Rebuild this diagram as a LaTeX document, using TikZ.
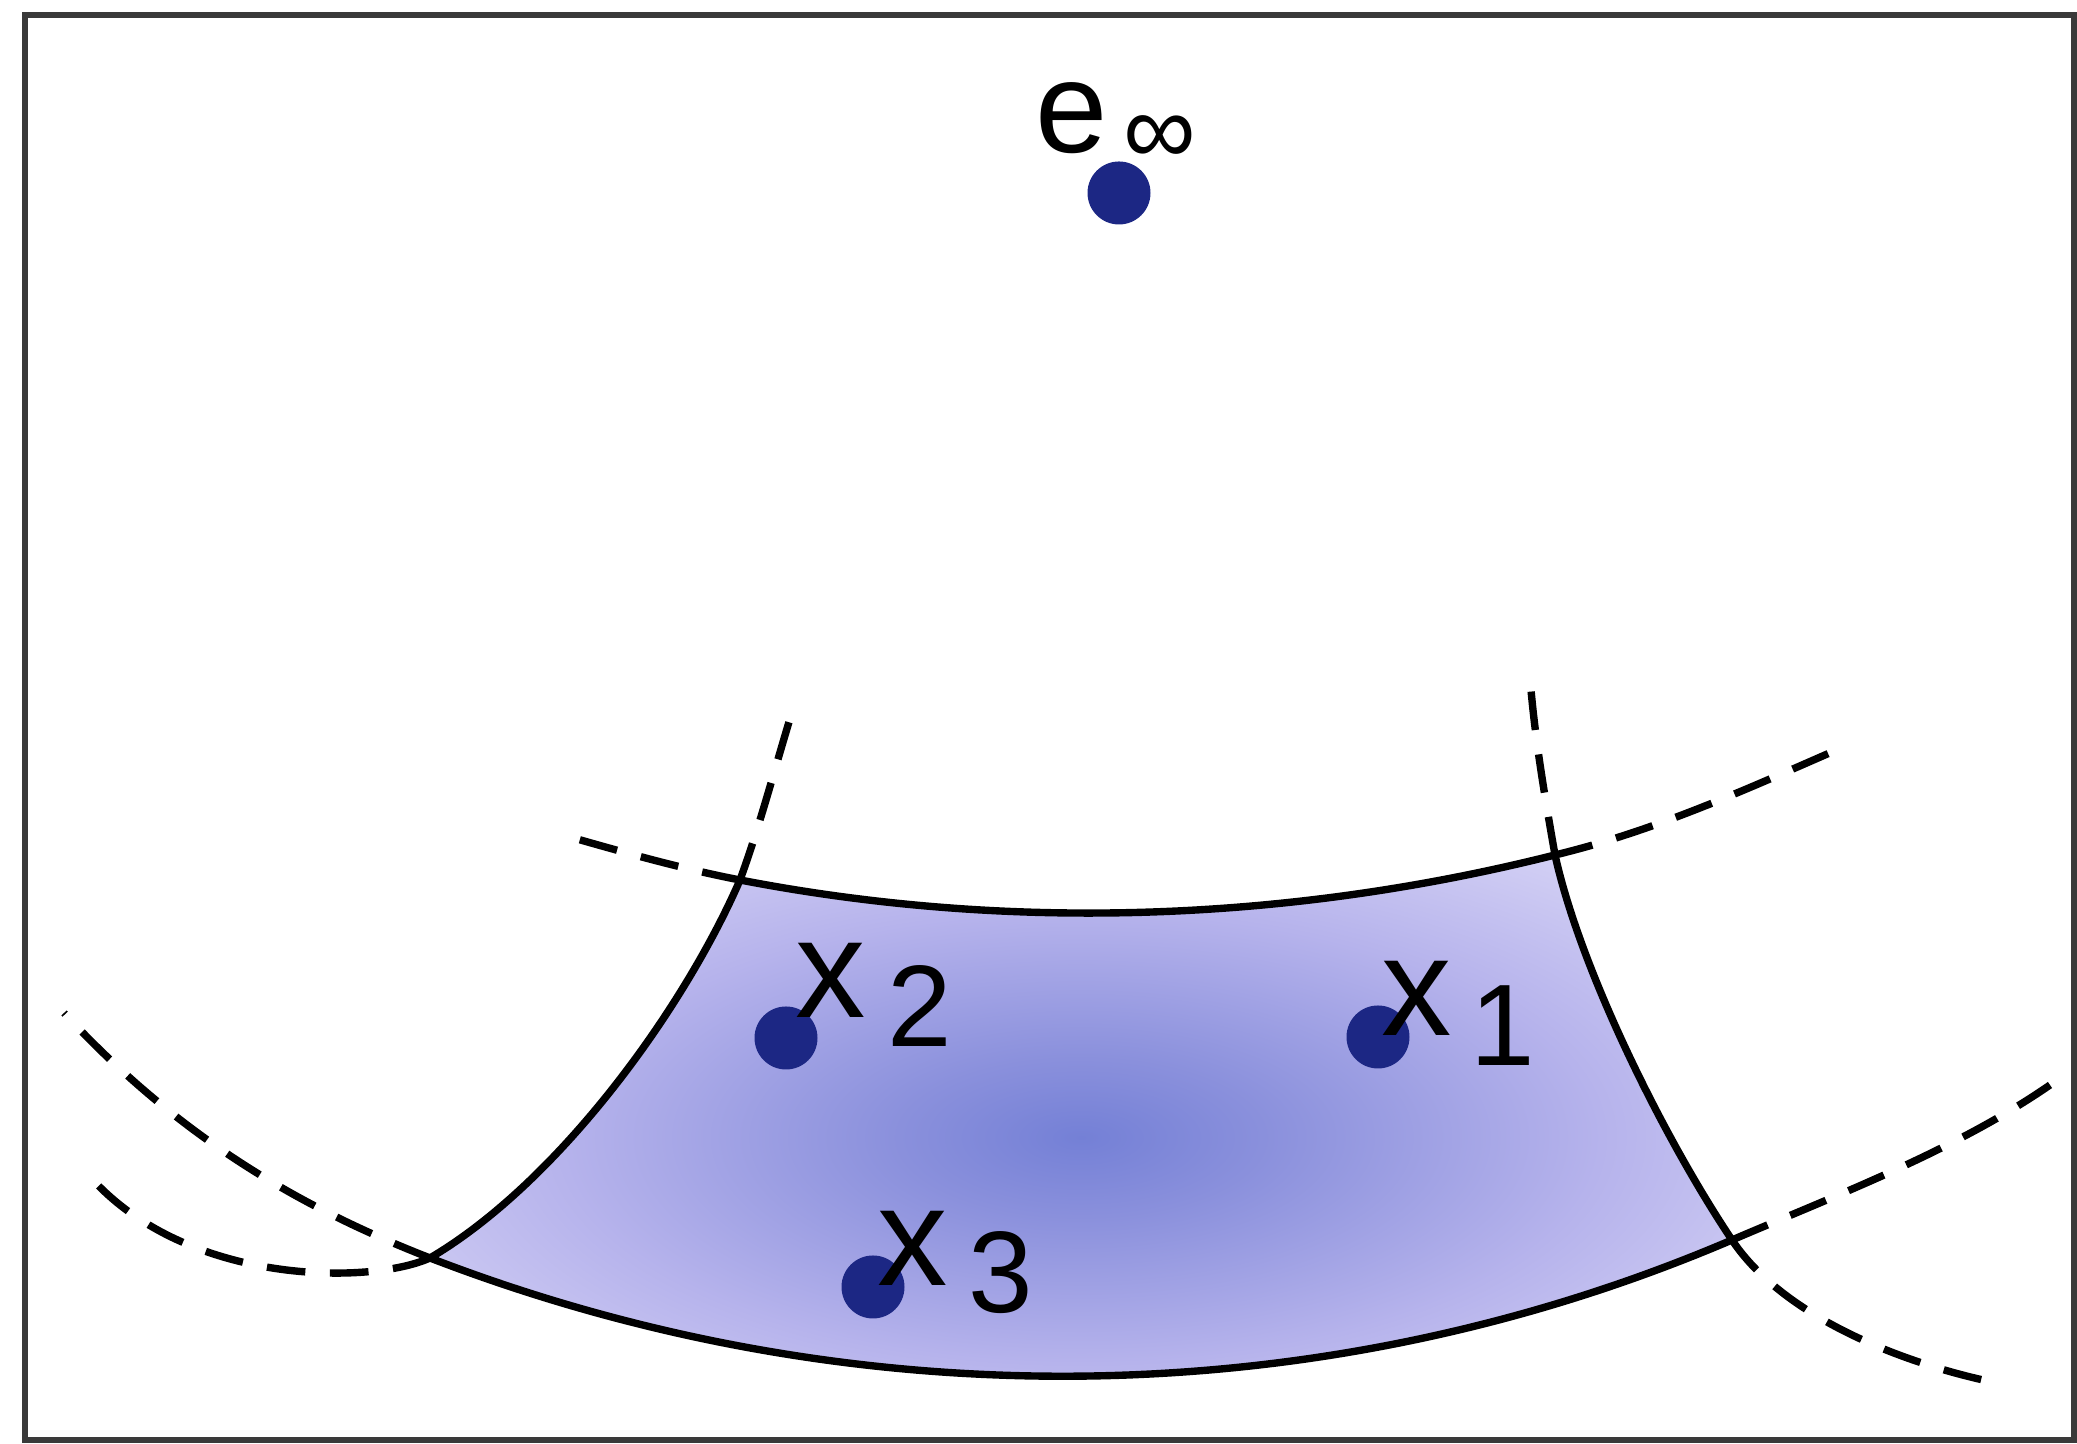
\documentclass[tikz,border=0pt]{standalone}
\usepackage{fontspec}
\setmainfont{Liberation Sans}
\usepackage{xcolor}
\definecolor{framecolor}{HTML}{3a3a3a}
\definecolor{pointcolor}{HTML}{1C2784}
\definecolor{shadein}{HTML}{7480D6}
\definecolor{shadeinner}{HTML}{8A90DC}
\definecolor{shademid}{HTML}{B6B3EC}
\definecolor{shadeout}{HTML}{E6E3FA}
\usepackage{tikz}
\usetikzlibrary{positioning}
\pgfdeclareradialshading{regionshade}{\pgfpoint{0bp}{0bp}}{%
    color(0bp)=(shadein); color(7bp)=(shadeinner); color(20bp)=(shademid);
    color(38bp)=(shadeout); color(50bp)=(shadeout)}
\tikzset{
    boundary/.style={
        draw=black,
        line width=2.1pt,
        line join=round,
    },
    guide/.style={
        draw=black,
        line width=2.1pt,
        dash pattern=on 11pt off 7pt,
    },
    pointdot/.style={
        circle,
        fill=pointcolor,
        inner sep=0pt,
        minimum size=0.63cm,
    },
    lbl/.style={
        inner sep=0pt,
        font=\fontsize{40}{40}\selectfont,
    },
    sublbl/.style={
        inner sep=0pt,
        font=\fontsize{33}{33}\selectfont,
    },
}

\begin{document}
\begin{tikzpicture}
    \useasboundingbox (0,0) rectangle (20.77,14.44);
    % Frame
    \draw[framecolor, line width=1.8pt] (0.25,0.04) rectangle (20.74,14.29);

    % Corners of the region
    \coordinate (tl) at (7.40,5.64);
    \coordinate (tr) at (15.55,5.89);
    \coordinate (br) at (17.32,2.04);
    \coordinate (bl) at (4.30,1.86);

    % Free ends of the continued circles
    \coordinate (tl-left) at (5.70,6.07);
    \coordinate (tl-up) at (7.89,7.22);
    \coordinate (tr-right) at (18.41,6.96);
    \coordinate (tr-up) at (15.31,7.54);
    \coordinate (bl-left) at (0.64,4.31);
    \coordinate (bl-down) at (0.93,2.64);
    \coordinate (br-right) at (20.50,3.59);
    \coordinate (br-down) at (19.83,0.64);

    % Shaded region
    \shadedraw[boundary, shading=regionshade]
        (tl) .. controls (10.09,5.12) and (12.89,5.22) .. (tr)
             .. controls (15.81,4.72) and (16.65,3.04) .. (br)
             .. controls (13.18,0.27) and (8.50,0.24) .. (bl)
             .. controls (5.59,2.62) and (6.84,4.35) .. (tl) -- cycle;

    % Dashed continuations
    \draw[guide] (tl) .. controls (6.83,5.75) and (6.26,5.91) .. (tl-left);
    \draw[guide] (tl) .. controls (7.59,6.16) and (7.73,6.69) .. (tl-up);
    \draw[guide] (tr) .. controls (16.55,6.13) and (17.47,6.55) .. (tr-right);
    \draw[guide] (tr) .. controls (15.45,6.46) and (15.36,6.99) .. (tr-up);
    \draw[guide] (bl) .. controls (2.99,2.37) and (1.79,3.07) .. (bl-left);
    \draw[guide] (bl) .. controls (3.70,1.59) and (1.90,1.59) .. (bl-down);
    \draw[guide] (br) .. controls (18.37,2.49) and (19.56,2.94) .. (br-right);
    \draw[guide] (br) .. controls (17.82,1.29) and (18.95,0.84) .. (br-down);

    % Points
    \node[pointdot] (einf) at (11.19,12.51) {};
    \node[pointdot] (x1) at (13.78,4.07) {};
    \node[pointdot] (x2) at (7.86,4.06) {};
    \node[pointdot] (x3) at (8.73,1.57) {};

    % Labels
    \node[lbl, font=\fontsize{37}{37}\selectfont] (einf-lab) at (10.72,13.26) {e};
    \node[sublbl, font=\fontsize{29}{29}\selectfont] (einf-sub) at (11.60,13.04) {∞};
    \node[lbl] (x1-lab) at (14.17,4.46) {x};
    \node[sublbl] (x1-sub) at (15.03,4.18) {1};
    \node[lbl] (x2-lab) at (8.31,4.64) {x};
    \node[sublbl] (x2-sub) at (9.20,4.38) {2};
    \node[lbl] (x3-lab) at (9.13,1.96) {x};
    \node[sublbl] (x3-sub) at (10.01,1.71) {3};
\end{tikzpicture}
\end{document}
